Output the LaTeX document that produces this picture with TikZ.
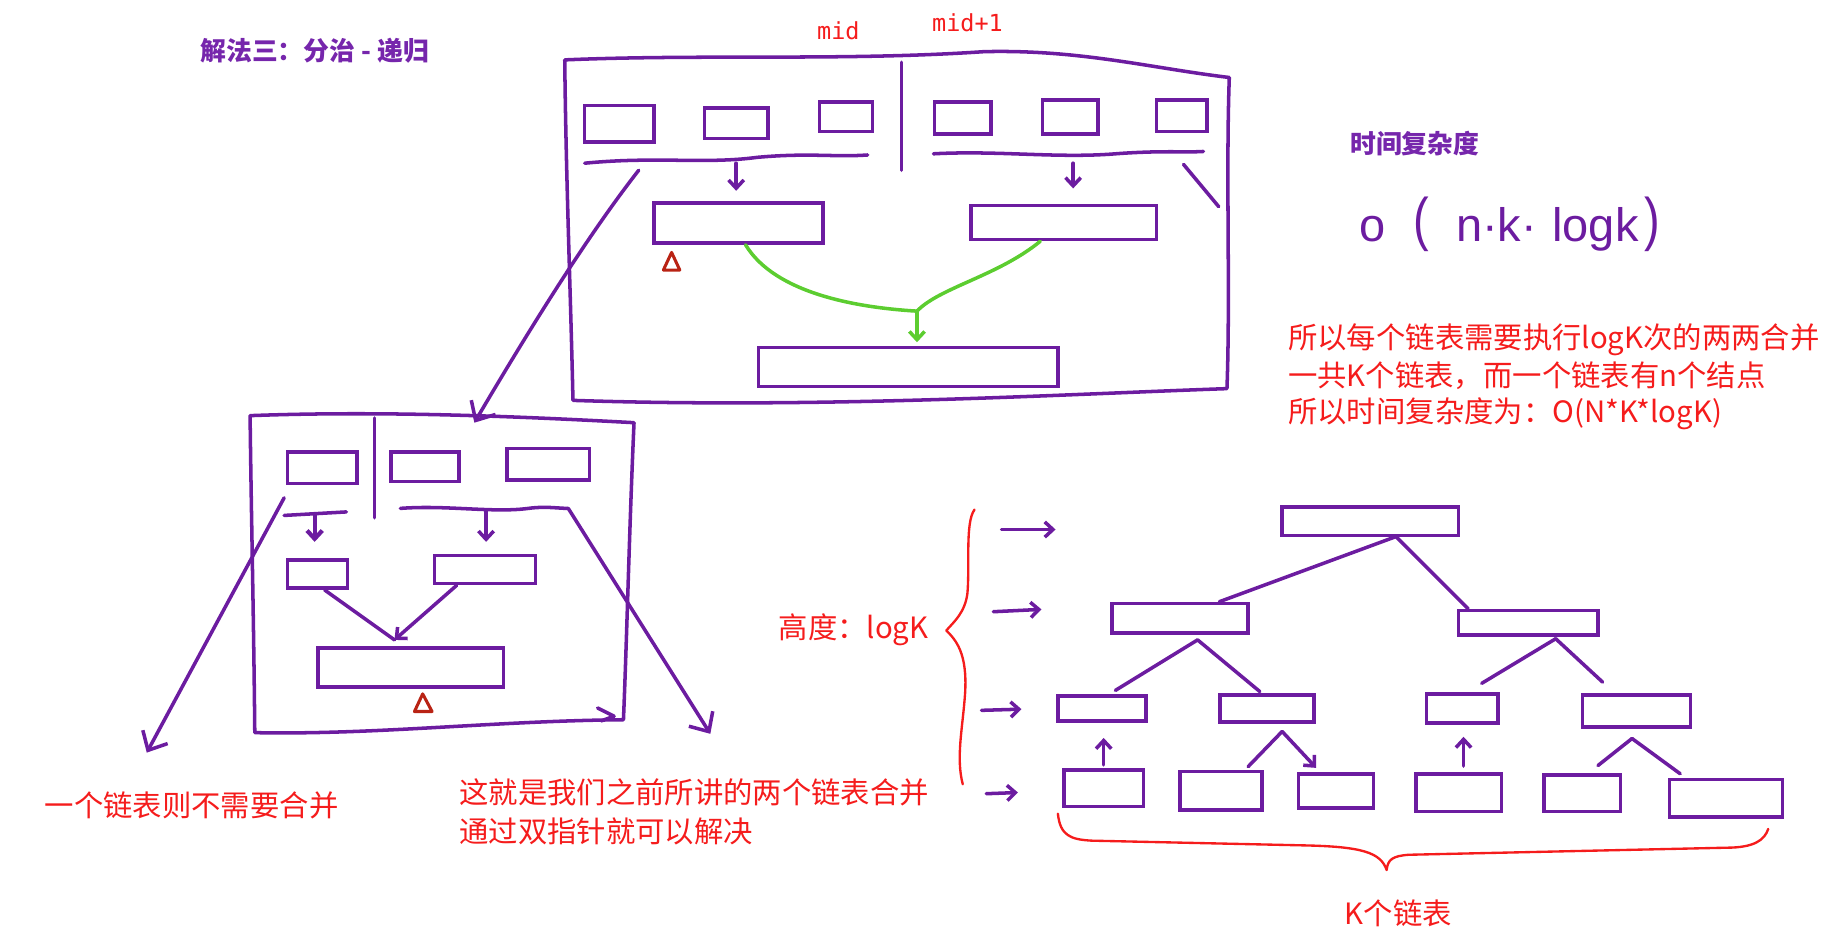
\documentclass[tikz,border=0pt]{standalone}
\usepackage{fontspec}
\newfontfamily\cjk{Noto Sans CJK SC}
\newfontfamily\monof{DejaVu Sans Mono}
\newfontfamily\hand{Liberation Sans}
\usetikzlibrary{arrows.meta,fit,calc}
\definecolor{pen}{RGB}{108,28,160}
\definecolor{ttl}{RGB}{118,38,172}
\definecolor{rd}{RGB}{245,28,28}
\definecolor{grn}{RGB}{92,205,48}
\definecolor{tri}{RGB}{185,35,20}
\begin{document}
\begin{tikzpicture}[x=1pt,y=-1pt,
  pen/.style={draw=pen,line width=3pt,line cap=round,line join=round},
  box/.style={draw=pen,line width=3pt,rectangle,inner sep=0pt},
  arr/.style={pen,-{Straight Barb[length=7pt,width=13pt]}},
  bigarr/.style={pen,-{Straight Barb[length=13pt,width=24pt]}},
  grline/.style={draw=grn,line width=3pt,line cap=round},
  brace/.style={draw=rd,line width=2pt,line cap=round,line join=round},
  redtxt/.style={text=rd,inner sep=0pt,font=\cjk\fontsize{25}{28}\selectfont},
  ttltxt/.style={text=ttl,inner sep=0pt,font=\cjk\bfseries\fontsize{22}{24}\selectfont},
  formula/.style={text=pen,inner sep=0pt,anchor=base west,font=\hand\fontsize{40}{44}\selectfont},
  trimark/.style={draw=tri,line width=2.6pt,line join=round}
]
\useasboundingbox (0,0) rectangle (1568,800);

% ---------------- titles ----------------
\node[ttltxt] (title) at (268,43) {解法三：分治 - 递归};
\node[text=rd,inner sep=0pt,font=\monof\fontsize{20}{22}\selectfont] (mid) at (714,26) {mid};
\node[text=rd,inner sep=0pt,font=\monof\fontsize{20}{22}\selectfont] (mid1) at (824,19) {mid+1};

% ---------------- top frame ----------------
\draw[pen] (481,51) .. controls (600,46) and (720,52) .. (838,44)
  .. controls (920,42) and (980,58) .. (1047,66)
  .. controls (1044,150) and (1048,250) .. (1045,331)
  .. controls (900,336) and (700,348) .. (488,341)
  .. controls (486,250) and (482,150) .. (481,51);
\draw[pen] (768,53) -- (768,145);
\node[box,fit={(498,90) (557,121)}] (t1) {};
\node[box,fit={(600,92) (654,118)}] (t2) {};
\node[box,fit={(698,87) (743,112)}] (t3) {};
\node[box,fit={(796,87) (844,114)}] (t4) {};
\node[box,fit={(888,85) (935,114)}] (t5) {};
\node[box,fit={(985,85) (1028,112)}] (t6) {};
\draw[pen] (498,139) .. controls (560,133) and (600,140) .. (645,134) .. controls (690,130) and (710,134) .. (739,132);
\draw[pen] (795,131) .. controls (850,128) and (900,135) .. (950,131) .. controls (990,128) and (1010,130) .. (1025,129);
\node[box,fit={(557,173) (701,207)}] (m1) {};
\node[box,fit={(827,175) (985,204)}] (m2) {};
\node[box,fit={(646,296) (901,329)}] (b1) {};
\coordinate (ulL) at (627,139);
\coordinate (ulR) at (914,139);
\draw[arr,shorten >=9pt] (ulL) -- (ulL |- m1.north);
\draw[arr,shorten >=13pt] (ulR) -- (ulR |- m2.north);
\coordinate (gm) at (781,265);
\draw[grline] ([xshift=6pt]m1.south) .. controls (660,250) and (730,262) .. (gm);
\draw[grline] ([xshift=-20pt]m2.south) .. controls (850,235) and (800,245) .. (gm);
\draw[grline,-{Straight Barb[length=7pt,width=13pt]},shorten >=3pt] (gm) -- (gm |- b1.north);
\draw[trimark] (565,230) -- (579,230) -- (572,215) -- cycle;
\coordinate (rs) at (1008,140);
\coordinate (re) at (1038,176);
\draw[pen] (rs) -- (re);

% big arrow to lower frame
\coordinate (bs) at (544,145);
\coordinate (be) at (404,360);
\draw[bigarr] (bs) .. controls (505,195) and (460,265) .. (be);

% ---------------- lower frame ----------------
\draw[pen] (213,354) .. controls (320,350) and (430,354) .. (540,360)
  .. controls (536,450) and (534,540) .. (531,613)
  .. controls (420,614) and (320,626) .. (217,624)
  .. controls (216,520) and (214,440) .. (213,354);
\draw[pen] (319,356) -- (319,441);
\node[box,fit={(245,385) (304,412)}] (s1) {};
\node[box,fit={(333,385) (391,410)}] (s2) {};
\node[box,fit={(432,382) (502,409)}] (s3) {};
\draw[pen] (242,439) -- (295,436);
\draw[pen] (341,433) .. controls (380,430) and (420,437) .. (450,433) .. controls (465,431) and (475,433) .. (484,433);
\node[box,fit={(245,477) (296,501)}] (s4) {};
\node[box,fit={(370,473) (456,497)}] (s5) {};
\node[box,fit={(271,552) (429,585)}] (s6) {};
\coordinate (dl) at (268,438);
\coordinate (dr) at (414,435);
\draw[arr,line width=3.6pt,shorten >=14pt] (dl) -- (dl |- s4.north);
\draw[arr,shorten >=10pt] (dr) -- (dr |- s5.north);
\coordinate (vm) at (336,545);
\draw[pen] ([xshift=6pt]s4.south) -- (vm);
\draw[arr] ([xshift=-24pt]s5.south) -- (vm);
\draw[trimark] (353,606) -- (368,606) -- (360,591) -- cycle;
\draw[pen] (509,603) -- (523,610) -- (512,614);
\coordinate (ls) at (242,424);
\coordinate (le) at (125,641);
\draw[bigarr] (ls) -- (le);
\coordinate (rs2) at (484,433);
\coordinate (re2) at (605,625);
\draw[bigarr] (rs2) -- (re2);

% ---------------- bottom red texts ----------------
\node[redtxt,anchor=west] (t-one) at (38,686) {一个链表则不需要合并};
\node[redtxt,anchor=west] (t-two) at (391,675) {这就是我们之前所讲的两个链表合并};
\node[redtxt,anchor=west] (t-three) at (391,708) {通过双指针就可以解决};

% ---------------- complexity ----------------
\node[ttltxt] (tc) at (1205,122) {时间复杂度};
\node[formula] (f1) at (1158,206) {o};
\node[formula,yscale=1.25,font=\hand\fontsize{40}{44}\selectfont] (f2) at (1204,204) {(};
\node[formula] (f3) at (1240,206) {n·k·};
\node[formula] (f4) at (1322,206) {logk};
\node[formula,yscale=1.25] (f5) at (1400,204) {)};
\node[redtxt,anchor=west] (r1) at (1097,289) {所以每个链表需要执行logK次的两两合并};
\node[redtxt,anchor=west] (r2) at (1097,320) {一共K个链表，而一个链表有n个结点};
\node[redtxt,anchor=west] (r3) at (1097,352) {所以时间复杂度为：O(N*K*logK)};

% ---------------- tree ----------------
\node[box,fit={(1092,432) (1242,456)}] (r0) {};
\node[box,fit={(947,514) (1063,539)}] (l2a) {};
\node[box,fit={(1242,520) (1361,541)}] (l2b) {};
\node[box,fit={(901,593) (976,614)}] (l3a) {};
\node[box,fit={(1039,592) (1119,615)}] (l3b) {};
\node[box,fit={(1215,591) (1276,616)}] (l3c) {};
\node[box,fit={(1348,592) (1440,619)}] (l3d) {};
\node[box,fit={(906,656) (974,687)}] (l4a) {};
\node[box,fit={(1005,657) (1075,690)}] (l4b) {};
\node[box,fit={(1106,659) (1170,688)}] (l4c) {};
\node[box,fit={(1206,659) (1279,691)}] (l4d) {};
\node[box,fit={(1315,660) (1380,691)}] (l4e) {};
\node[box,fit={(1422,664) (1518,696)}] (l4f) {};

\coordinate (ap0) at (1189,457);
\coordinate (ap1) at (1020,545);
\coordinate (ap2) at (1325,544);
\coordinate (ap3) at (1092,623);
\coordinate (ap4) at (1390,629);
\draw[pen] (ap0) -- ([xshift=-26pt]l2a.north east);
\draw[pen] (ap0) -- ([xshift=10pt]l2b.north west);
\draw[pen] (ap1) -- (950,588);
\draw[pen] (ap1) -- (1073,589);
\draw[pen] (ap2) -- (1262,582);
\draw[pen] (ap2) -- (1365,581);
\draw[pen] (ap3) -- (1063,653);
\draw[arr] (ap3) -- (1121,654);
\draw[pen] (ap4) -- (1361,652);
\draw[pen] (ap4) -- (1431,659);
\draw[arr,shorten <=3pt,shorten >=13pt] (l4a.north) -- (l4a.north |- l3a.south);
\draw[arr,shorten <=5pt,shorten >=10pt] ([xshift=4pt]l4d.north) -- ([xshift=4pt]l4d.north |- l3c.south);

% level arrows
\coordinate (la1) at (853,451); \coordinate (lb1) at (899,451);
\coordinate (la2) at (846,521); \coordinate (lb2) at (887,519);
\coordinate (la3) at (836,605); \coordinate (lb3) at (870,604);
\coordinate (la4) at (840,676); \coordinate (lb4) at (867,675);
\draw[arr] (la1) -- (lb1);
\draw[arr] (la2) -- (lb2);
\draw[arr] (la3) -- (lb3);
\draw[arr] (la4) -- (lb4);

% braces
\draw[brace] (830,434) .. controls (822,445) and (826,480) .. (824,505)
  .. controls (822,522) and (812,530) .. (806,537)
  .. controls (814,545) and (824,556) .. (822,590)
  .. controls (820,620) and (814,645) .. (820,668);
\node[redtxt,anchor=west] (h) at (663,536) {高度：logK};
\draw[brace] (901,693) .. controls (903,712) and (912,715) .. (930,716)
  -- (1110,720) .. controls (1160,721) and (1176,726) .. (1181,741)
  .. controls (1182,732) and (1186,729) .. (1200,728)
  -- (1470,722) .. controls (1495,722) and (1503,715) .. (1506,706);
\node[redtxt] (k) at (1191,778) {K个链表};
\end{tikzpicture}
\end{document}
